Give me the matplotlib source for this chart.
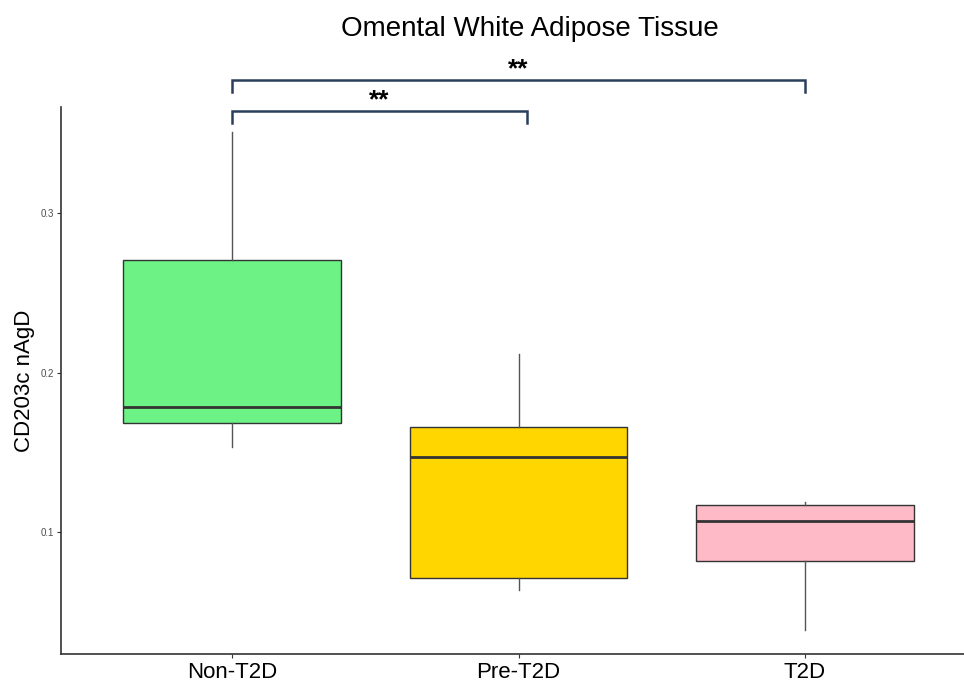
import matplotlib
matplotlib.use("Agg")
import matplotlib.pyplot as plt

plt.rcParams['font.family'] = ['Liberation Sans', 'DejaVu Sans']

categories = ["Non-T2D", "Pre-T2D", "T2D"]
whislo = [0.1533, 0.0636, 0.0386]
q1 = [0.1683, 0.0712, 0.0818]
med = [0.1784, 0.1470, 0.1069]
q3 = [0.2705, 0.1658, 0.1169]
whishi = [0.3508, 0.2116, 0.1188]
colors = ["#6CF285", "#FFD600", "#FFBAC8"]

# significance brackets: (x_start, x_end, y, label)
brackets = [(1.0, 2.03, 0.3640, "**"), (1.0, 3.0, 0.3835, "**")]
yticks = [0.1, 0.2, 0.3]

fig = plt.figure(figsize=(9.64, 6.82), dpi=100)
ax = fig.add_axes([0.0633, 0.041, 0.9367, 0.802])

stats = []
for i, c in enumerate(categories):
    stats.append(dict(label=c, whislo=whislo[i], q1=q1[i], med=med[i], q3=q3[i], whishi=whishi[i], fliers=[]))

bp = ax.bxp(stats, positions=[1, 2, 3], widths=0.76, patch_artist=True, showcaps=False,
            boxprops=dict(edgecolor="#333333", linewidth=1.0),
            medianprops=dict(color="#333333", linewidth=2.0),
            whiskerprops=dict(color="#555555", linewidth=1.0))
for patch, col in zip(bp['boxes'], colors):
    patch.set_facecolor(col)

ax.set_xlim(0.403, 3.555)
ax.set_ylim(0.0235, 0.3665)
ax.set_yticks(yticks)
ax.set_yticklabels([f"{t:.1f}" for t in yticks], fontsize=7, color="#4d4d4d")
ax.set_xticks([1, 2, 3])
ax.set_xticklabels(categories, fontsize=16, color="black")
ax.tick_params(axis='y', length=3, color="#333333", pad=2)
ax.tick_params(axis='x', length=3, color="#333333", pad=3)
for s in ["top", "right"]:
    ax.spines[s].set_visible(False)
for s in ["left", "bottom"]:
    ax.spines[s].set_color("#333333")
    ax.spines[s].set_linewidth(1.2)

ax.set_ylabel("CD203c nAgD", fontsize=16, labelpad=4)

tick_len = 0.0075
for x0, x1, y, lab in brackets:
    ax.plot([x0, x0, x1, x1], [y - tick_len, y, y, y - tick_len], color="#2B3E5C",
            linewidth=1.8, clip_on=False, solid_joinstyle="miter")
    ax.text((x0 + x1) / 2, y - 0.0010, lab, ha="center", va="bottom", fontsize=19,
            fontweight="bold", color="black", clip_on=False)

fig.text(0.55, 0.957, "Omental White Adipose Tissue", ha="center", va="center", fontsize=20)

fig.savefig("out.png", dpi=100)
